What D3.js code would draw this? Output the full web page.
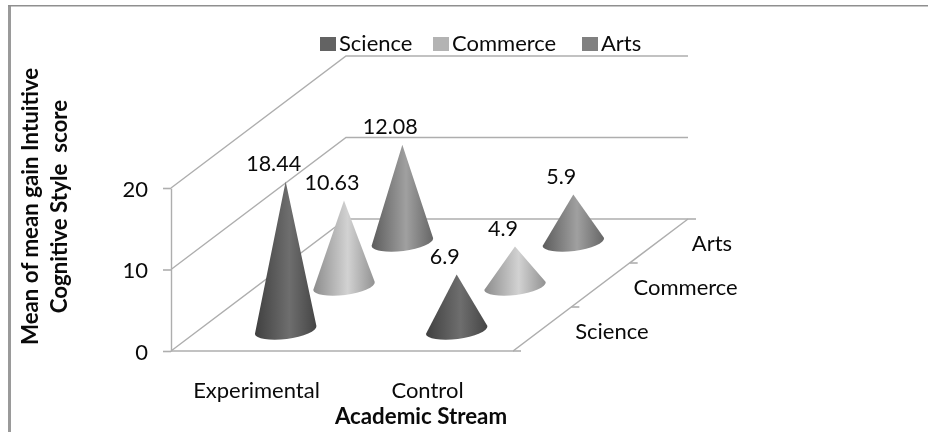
<!DOCTYPE html>
<html>
<head>
<meta charset="utf-8">
<script src="https://cdn.jsdelivr.net/npm/d3@7"></script>
<style>
html,body{margin:0;padding:0;background:#fff;}
svg{display:block;}
text{font-family:Lato,"Open Sans",sans-serif;fill:#0a0a0a;}
</style>
</head>
<body>
<div id="chart"></div>
<script>
const categories = ["Experimental", "Control"];
const seriesNames = ["Science", "Commerce", "Arts"];
const scienceValues = [18.44, 6.9];
const commerceValues = [10.63, 4.9];
const artsValues = [12.08, 5.9];
const valueTicks = [0, 10, 20];
const valueDomain = [0, 20];
const seriesColors = ["#636363", "#b3b3b3", "#808080"];
const gradientStops = [
  ["#404040", "#6e6e6e", "#454545"],
  ["#8c8c8c", "#d2d2d2", "#929292"],
  ["#5c5c5c", "#a0a0a0", "#666666"]
];
const yTitleLines = ["Mean of mean gain Intuitive", "Cognitive Style  score"];
const xTitle = "Academic Stream";

const seriesValues = [scienceValues, commerceValues, artsValues];
const width = 928, height = 432;
const axisColor = "#aeaeae";
const labelSize = 22, titleSize = 22.3, dataLabelSize = 21.5;

const svg = d3.select("#chart").append("svg").attr("width", width).attr("height", height);
const defs = svg.append("defs");

// Oblique projection: category along x, series along depth, value upward.
const xScale = d3.scaleBand().domain(categories).range([171, 513]).paddingInner(0).paddingOuter(0);
const depthX = d3.scaleBand().domain(seriesNames).range([0, 175]);
const depthY = d3.scaleBand().domain(seriesNames).range([0, 132]);
const yScale = d3.scaleLinear().domain(valueDomain).range([351, 188]);
const coneHeight = d3.scaleLinear().domain(valueDomain).range([0, 161]);
const depthFracX = d3.scaleLinear().domain([0, 1]).range([0, 175]);
const depthFracY = d3.scaleLinear().domain([0, 1]).range([0, 132]);

// Frame
svg.append("line").attr("x1", 9.5).attr("x2", 9.5).attr("y1", 5).attr("y2", height)
  .attr("stroke", "#9a9a9a").attr("stroke-width", 3);
svg.append("line").attr("x1", 8).attr("x2", width).attr("y1", 5.8).attr("y2", 5.8)
  .attr("stroke", "#8f8f8f").attr("stroke-width", 1.6);

const chart = svg.append("g").style("filter", "blur(0.35px)");
const line = d3.line();
const x0 = xScale.range()[0], x1 = xScale.range()[1];
const backDx = depthFracX(1), backDy = depthFracY(1);

// Gridlines on side and back walls
chart.append("g").selectAll("path").data(valueTicks).join("path")
  .attr("d", v => line([[x0, yScale(v)], [x0 + backDx, yScale(v) - backDy], [x1 + backDx, yScale(v) - backDy]]))
  .attr("fill", "none").attr("stroke", axisColor).attr("stroke-width", 1.4);

// Value axis
const axisG = chart.append("g").attr("transform", `translate(${x0},0)`)
  .call(d3.axisLeft(yScale).tickValues(valueTicks).tickSize(8).tickPadding(15).tickSizeOuter(0));
axisG.select(".domain").attr("stroke", axisColor).attr("stroke-width", 1.4);
axisG.selectAll(".tick line").attr("stroke", axisColor).attr("stroke-width", 1.6);
axisG.selectAll(".tick text").style("font-family", "Lato,sans-serif").attr("font-size", labelSize).attr("fill", "#0a0a0a").attr("dy", "0.38em");

// Floor
chart.append("path")
  .attr("d", line([[x0, yScale(0)], [x1, yScale(0)], [x1 + backDx, yScale(0) - backDy]]))
  .attr("fill", "none").attr("stroke", axisColor).attr("stroke-width", 1.4);

// Depth-axis ticks
chart.append("g").selectAll("line").data([0, 1 / 3, 2 / 3, 1]).join("line")
  .attr("x1", f => x1 + depthFracX(f)).attr("x2", f => x1 + depthFracX(f) + 8)
  .attr("y1", f => yScale(0) - depthFracY(f)).attr("y2", f => yScale(0) - depthFracY(f))
  .attr("stroke", axisColor).attr("stroke-width", 1.6);

// Gradients
seriesNames.forEach((s, i) => {
  const g = defs.append("linearGradient").attr("id", "cone" + i)
    .attr("x1", 0).attr("x2", 1).attr("y1", 0).attr("y2", 0);
  [0, 0.56, 1].forEach((o, k) => g.append("stop").attr("offset", o).attr("stop-color", gradientStops[i][k]));
});

// Cones, back to front
const coneRx = 31, coneRy = 9, coneTilt = -7.2, baseDrop = 1;
const cones = [];
seriesNames.forEach((s, si) => categories.forEach((c, ci) => {
  cones.push({ si, ci, value: seriesValues[si][ci], s, c });
}));
cones.sort((a, b) => d3.descending(a.si, b.si) || d3.ascending(a.ci, b.ci));
const rad = coneTilt * Math.PI / 180;

function baseCenter(d) {
  return [
    xScale(d.c) + xScale.bandwidth() / 2 + depthX(d.s) + depthX.bandwidth() / 2,
    yScale(0) - depthY(d.s) - depthY.bandwidth() / 2 + baseDrop
  ];
}
function conePath(d) {
  const [cx, cy] = baseCenter(d);
  const ax = cx, ay = cy - coneHeight(d.value);
  const lx = cx - coneRx * Math.cos(rad), ly = cy - coneRx * Math.sin(rad);
  const rx = cx + coneRx * Math.cos(rad), ry = cy + coneRx * Math.sin(rad);
  return `M${ax},${ay}L${lx},${ly}A${coneRx},${coneRy} ${coneTilt} 0 0 ${rx},${ry}Z`;
}
chart.append("g").selectAll("path").data(cones).join("path")
  .attr("d", conePath)
  .attr("fill", d => `url(#cone${d.si})`);

// Data labels
chart.append("g").selectAll("text").data(cones).join("text")
  .attr("x", d => baseCenter(d)[0] - 12)
  .attr("y", d => baseCenter(d)[1] - coneHeight(d.value) - 10.5)
  .attr("text-anchor", "middle").attr("font-size", dataLabelSize)
  .text(d => String(d.value));

// Category labels
chart.append("g").selectAll("text").data(categories).join("text")
  .attr("x", c => xScale(c) + xScale.bandwidth() / 2)
  .attr("y", 398).attr("text-anchor", "middle").attr("font-size", labelSize)
  .text(c => c);

// Depth labels
chart.append("g").selectAll("text").data(seriesNames).join("text")
  .attr("x", s => x1 + depthX(s) + depthX.bandwidth() / 2 + 33)
  .attr("y", s => yScale(0) - depthY(s) - depthY.bandwidth() / 2 + 10)
  .attr("font-size", labelSize).text(s => s);

// Axis titles
chart.append("text").attr("x", 421).attr("y", 424).attr("text-anchor", "middle")
  .attr("font-size", titleSize).attr("font-weight", 700).text(xTitle);
chart.append("g").selectAll("text").data(yTitleLines).join("text")
  .attr("transform", (t, i) => `translate(${38 + i * 28.5},206.5) rotate(-90)`)
  .attr("text-anchor", "middle").attr("font-size", titleSize).attr("font-weight", 700)
  .attr("xml:space", "preserve").style("white-space", "pre").text(t => t);

// Legend
const legendSwatchX = d3.scaleOrdinal().domain(seriesNames).range([320, 433, 582]);
const legend = chart.append("g").selectAll("g").data(seriesNames).join("g")
  .attr("transform", s => `translate(${legendSwatchX(s)},37)`);
legend.append("rect").attr("width", 16).attr("height", 14).attr("fill", (s, i) => seriesColors[i]);
legend.append("text").attr("x", 19).attr("y", 14).attr("font-size", labelSize).text(s => s);
</script>
</body>
</html>
